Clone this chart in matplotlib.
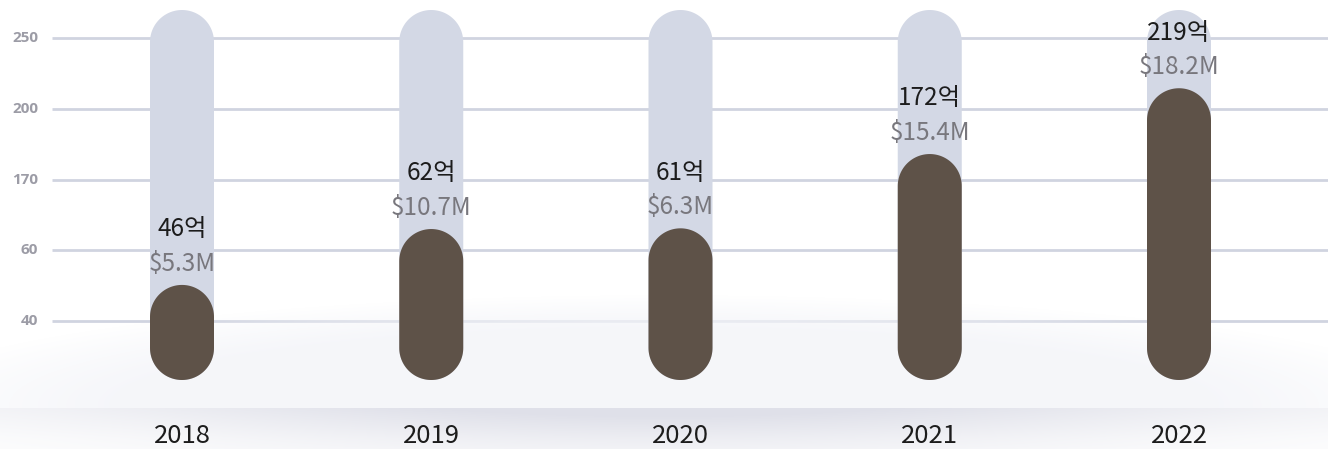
import numpy as np
import matplotlib.pyplot as plt
from matplotlib.patches import Polygon

plt.rcParams['font.family'] = ['Noto Sans CJK KR', 'DejaVu Sans']

# Datos
years = ['2018', '2019', '2020', '2021', '2022']
won_labels = ['46억', '62억', '61억', '172억', '219억']
usd_labels = ['$5.3M', '$10.7M', '$6.3M', '$15.4M', '$18.2M']
bar_level = [0.51, 1.30, 1.31, 2.36, 3.29]      # altura de cada barra en el eje
tick_labels = ['40', '60', '170', '200', '250']  # etiquetas de las lineas guia

# Escala del lienzo (px por unidad)
W, H = 1328, 449
px_x = 249.25
px_y = 70.75
x0, y0 = 182, 321  # posicion en px de la primera barra y de la linea "40"


def to_x(px):
    return (px - x0) / px_x


def to_y(py):
    return (y0 - py) / px_y


fig = plt.figure(figsize=(W / 100, H / 100), dpi=100)
ax = fig.add_axes([0, 0, 1, 1])
xmin, xmax = to_x(0), to_x(W)
ymin, ymax = to_y(H), to_y(0)
ax.set_xlim(xmin, xmax)
ax.set_ylim(ymin, ymax)
ax.axis('off')

# Lineas guia
ax.hlines(range(len(tick_labels)), to_x(52), xmax, color='#d0d4e0', lw=2, zorder=1)
for i, t in enumerate(tick_labels):
    ax.text(to_x(38), i, t, ha='right', va='center', fontsize=11, fontweight='bold',
            color='#9c9ca6', family=['Open Sans', 'DejaVu Sans'])

# Plataforma / sombra de fondo
yy, xx = np.mgrid[0:H, 0:W] + 0.5
img = np.zeros((H, W, 4))
d = ((xx - 664) / 780) ** 2 + ((yy - 405) / 110) ** 2
a_top = np.clip((1 - d) / 0.5, 0, 1) * (yy < 408)
a_sh = np.clip(1 - (yy - 408) / 70, 0, 1) * np.exp(-((xx - 664) / 560) ** 2) * (yy >= 408)
a_sh += np.clip(1 - (yy - 408) / 30, 0, 1) * 0.15 * (yy >= 408)
plat = np.array([244, 245, 249]) / 255
shad = np.array([223, 224, 233]) / 255
img[..., :3] = np.where((yy < 408)[..., None], plat, shad)
img[..., 3] = np.clip(np.where(yy < 408, a_top * 0.85, a_sh), 0, 1)
ax.imshow(img, extent=(xmin, xmax, ymin, ymax), aspect='auto', zorder=2)

# Barras tipo pildora
bw = 64 / px_x
cap = 64 / px_y
bottom = to_y(380)
top_bg = to_y(10)
t = np.linspace(0, np.pi, 60)


def pill(x, y_bot, y_top, color):
    rx, ry = bw / 2, cap / 2
    top = np.column_stack([x + rx * np.cos(t), y_top - ry + ry * np.sin(t)])
    bot = np.column_stack([x - rx * np.cos(t), y_bot + ry - ry * np.sin(t)])
    ax.add_patch(Polygon(np.vstack([top, bot]), closed=True, color=color, lw=0, zorder=3))


for i, lvl in enumerate(bar_level):
    pill(i, bottom, top_bg, '#d3d8e5')
    pill(i, bottom, lvl, '#5e5248')
    ax.annotate(usd_labels[i], (i, lvl), xytext=(0, 15), textcoords='offset points',
                ha='center', va='center', fontsize=17.5, color='#78777d', zorder=4)
    ax.annotate(won_labels[i], (i, lvl), xytext=(0, 40), textcoords='offset points',
                ha='center', va='center', fontsize=17.5, color='#1c1c1c', zorder=4)
    ax.text(i, to_y(436), years[i], ha='center', va='center', fontsize=18.5,
            color='#1c1c1c', zorder=4)

plt.savefig('out.png', dpi=100)
